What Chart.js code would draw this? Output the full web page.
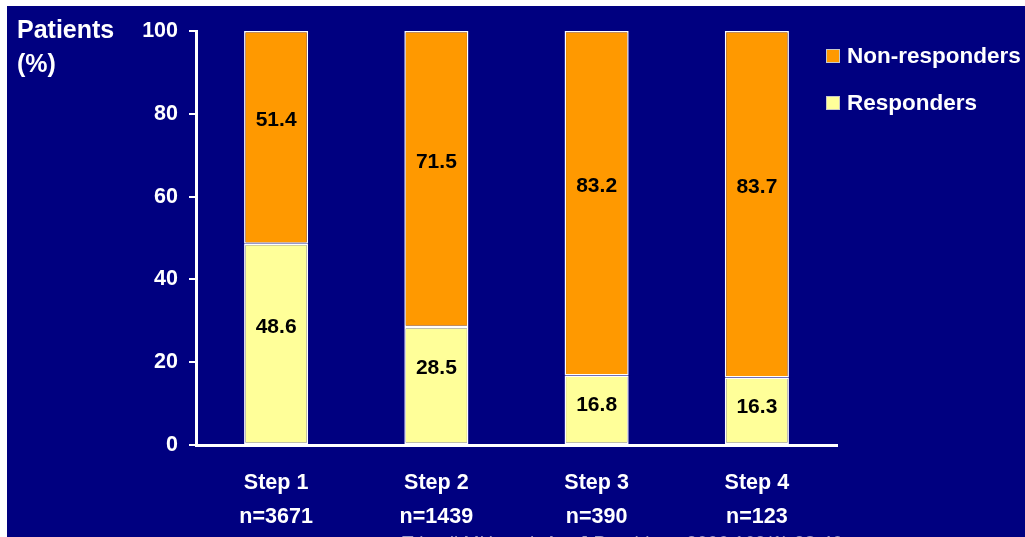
<!DOCTYPE html>
<html>
<head>
<meta charset="utf-8">
<script src="https://cdn.jsdelivr.net/npm/chart.js@4/dist/chart.umd.min.js"></script>
<style>
html,body{margin:0;padding:0;background:#fff;}
#wrap{position:relative;width:1025px;height:537px;}
</style>
</head>
<body>
<div id="wrap"><canvas id="c" width="1025" height="537"></canvas></div>
<script>
const categories = ['Step 1', 'Step 2', 'Step 3', 'Step 4'];
const sampleSizes = ['n=3671', 'n=1439', 'n=390', 'n=123'];
const responders = [48.6, 28.5, 16.8, 16.3];
const nonResponders = [51.4, 71.5, 83.2, 83.7];
const yTitleLines = ['Patients', '(%)'];
const footnote = 'Trivedi MH et al. Am J Psychiatry 2006;163(1):28-40';

const FONT = '"Liberation Sans", Arial, sans-serif';
const NAVY = '#000080';
const ORANGE = '#FF9900';
const YELLOW = '#FFFF99';

const bgPlugin = {
  id: 'bg',
  beforeDraw(chart) {
    const ctx = chart.ctx;
    ctx.save();
    ctx.fillStyle = '#ffffff';
    ctx.fillRect(0, 0, chart.width, chart.height);
    ctx.fillStyle = NAVY;
    ctx.fillRect(7, 6, chart.width - 7, chart.height - 6);
    ctx.restore();
  }
};

const extrasPlugin = {
  id: 'extras',
  afterDraw(chart) {
    const ctx = chart.ctx;
    ctx.save();
    // y title
    ctx.fillStyle = '#ffffff';
    ctx.font = 'bold 25px ' + FONT;
    ctx.textAlign = 'left';
    ctx.textBaseline = 'middle';
    yTitleLines.forEach((t, i) => ctx.fillText(t, 17, 31 + i * 34));

    // data labels
    ctx.fillStyle = '#000000';
    ctx.font = 'bold 21px ' + FONT;
    ctx.textAlign = 'center';
    chart.data.datasets.forEach((ds, di) => {
      const meta = chart.getDatasetMeta(di);
      meta.data.forEach((bar, i) => {
        const top = Math.min(bar.y, bar.base);
        const bottom = Math.max(bar.y, bar.base);
        const h = bottom - top;
        const off = Math.max(0, Math.min(17, h / 2 - 30));
        ctx.fillText(ds.data[i].toFixed(1), bar.x, (top + bottom) / 2 - off);
      });
    });

    // legend
    const items = chart.data.datasets.slice().reverse();
    ctx.font = 'bold 22.5px ' + FONT;
    ctx.textAlign = 'left';
    items.forEach((ds, i) => {
      const cy = 56 + i * 47;
      ctx.fillStyle = ds.backgroundColor;
      ctx.fillRect(826, cy - 7, 14, 14);
      ctx.strokeStyle = '#c8c8c8';
      ctx.lineWidth = 1;
      ctx.strokeRect(826.5, cy - 6.5, 13, 13);
      ctx.fillStyle = '#ffffff';
      ctx.fillText(ds.label, 847, cy + 1);
    });

    // footnote (cut off at bottom)
    ctx.fillStyle = '#9a9ac8';
    ctx.font = '19px ' + FONT;
    ctx.textBaseline = 'top';
    ctx.fillText(footnote, 402, 534);
    ctx.restore();
  }
};

new Chart(document.getElementById('c'), {
  type: 'bar',
  data: {
    labels: categories.map((c, i) => [c, sampleSizes[i]]),
    datasets: [
      { label: 'Responders', data: responders, backgroundColor: YELLOW,
        borderColor: '#ffffff', borderWidth: 1.5, borderSkipped: false,
        barPercentage: 0.4, categoryPercentage: 1 },
      { label: 'Non-responders', data: nonResponders, backgroundColor: ORANGE,
        borderColor: '#ffffff', borderWidth: 1.5, borderSkipped: false,
        barPercentage: 0.4, categoryPercentage: 1 }
    ]
  },
  options: {
    responsive: false,
    animation: false,
    devicePixelRatio: 1,
    layout: { padding: { top: 31, right: 188, bottom: 0, left: 0 } },
    plugins: { legend: { display: false }, tooltip: { enabled: false } },
    scales: {
      x: {
        stacked: true,
        grid: { display: false },
        border: { display: true, color: '#ffffff', width: 3 },
        ticks: { color: '#ffffff', font: { family: FONT, size: 21.5, weight: 'bold', lineHeight: 1.58 }, padding: 13, maxRotation: 0 },
        afterFit(s) { s.height = 92; }
      },
      y: {
        stacked: true,
        min: 0, max: 100,
        grid: { drawOnChartArea: false, drawTicks: true, tickLength: 7, color: '#ffffff', lineWidth: 2 },
        border: { display: true, color: '#ffffff', width: 3 },
        ticks: { stepSize: 20, color: '#ffffff', font: { family: FONT, size: 21.5, weight: 'bold' }, padding: 11 },
        afterFit(s) { s.width = 196; }
      }
    }
  },
  plugins: [bgPlugin, extrasPlugin]
});
</script>
</body>
</html>
